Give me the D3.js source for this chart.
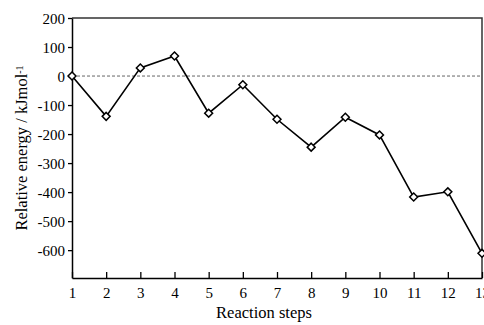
<!DOCTYPE html>
<html>
<head>
<meta charset="utf-8">
<script src="https://cdn.jsdelivr.net/npm/d3@7"></script>
<style>
  body { margin: 0; background: #fff; }
  svg { display: block; font-family: "Liberation Serif", "Times New Roman", serif; }
</style>
</head>
<body>
<div id="chart"></div>
<script>
// reaction steps and relative energies
const steps = [1, 2, 3, 4, 5, 6, 7, 8, 9, 10, 11, 12, 13];
const energy = [0, -139, 28, 69, -128, -30, -149, -245, -142, -203, -417, -399, -611];
const yTicks = [200, 100, 0, -100, -200, -300, -400, -500, -600];

const width = 484, height = 325;
const plotLeft = 72, plotRight = 482, plotTop = 18, plotBottom = 278;

const svg = d3.select('#chart')
  .append('svg')
  .attr('width', width)
  .attr('height', height);

const x = d3.scaleLinear().domain([1, 13]).range([plotLeft, plotRight]);
const y = d3.scaleLinear().domain([-696, 200]).range([plotBottom, plotTop]);

// frame top/right
svg.append('path')
  .attr('d', `M${plotLeft},${plotTop}H${plotRight}V${plotBottom}`)
  .attr('fill', 'none')
  .attr('stroke', '#333')
  .attr('stroke-width', 1.5);

// zero reference
svg.append('line')
  .attr('x1', plotLeft).attr('x2', plotRight - 2)
  .attr('y1', y(0)).attr('y2', y(0))
  .attr('stroke', '#555')
  .attr('stroke-width', 0.9)
  .attr('stroke-dasharray', '3,2');

const xAxis = svg.append('g')
  .attr('transform', `translate(0,${plotBottom})`)
  .call(d3.axisBottom(x).tickValues(steps).tickFormat(d3.format('d')).tickSizeInner(-6).tickSizeOuter(0).tickPadding(9));

const yAxis = svg.append('g')
  .attr('transform', `translate(${plotLeft},0)`)
  .call(d3.axisLeft(y).tickValues(yTicks).tickFormat(d => d < 0 ? '-' + Math.abs(d) : d).tickSizeInner(4).tickSizeOuter(0).tickPadding(3));

[xAxis, yAxis].forEach(g => {
  g.select('.domain').attr('stroke', '#000').attr('stroke-width', 1.5);
  g.selectAll('.tick line').attr('stroke', '#000').attr('stroke-width', 1.3);
  g.selectAll('.tick text')
    .attr('fill', '#000')
    .style('font-size', '15px')
    .style('font-family', '"Liberation Serif", serif');
});
yAxis.selectAll('.tick text').attr('dy', '0.38em');

// series line
const line = d3.line()
  .x((d, i) => x(steps[i]))
  .y(d => y(d));

svg.append('path')
  .datum(energy)
  .attr('d', line)
  .attr('fill', 'none')
  .attr('stroke', '#000')
  .attr('stroke-width', 1.6);

svg.selectAll('.pt')
  .data(energy)
  .enter()
  .append('path')
  .attr('class', 'pt')
  .attr('d', d3.symbol().type(d3.symbolDiamond2).size(40))
  .attr('transform', (d, i) => `translate(${x(steps[i])},${y(d)})`)
  .attr('fill', '#fff')
  .attr('stroke', '#000')
  .attr('stroke-width', 1.5);

svg.append('text')
  .attr('x', 264)
  .attr('y', 318)
  .attr('text-anchor', 'middle')
  .style('font-size', '16.5px')
  .text('Reaction steps');

const yl = svg.append('text')
  .attr('transform', 'translate(27,148) rotate(-90)')
  .attr('text-anchor', 'middle')
  .style('font-size', '16.5px');
yl.append('tspan').text('Relative energy / kJmol');
yl.append('tspan').attr('dy', '-0.45em').style('font-size', '10px').text('-1');
</script>
</body>
</html>
